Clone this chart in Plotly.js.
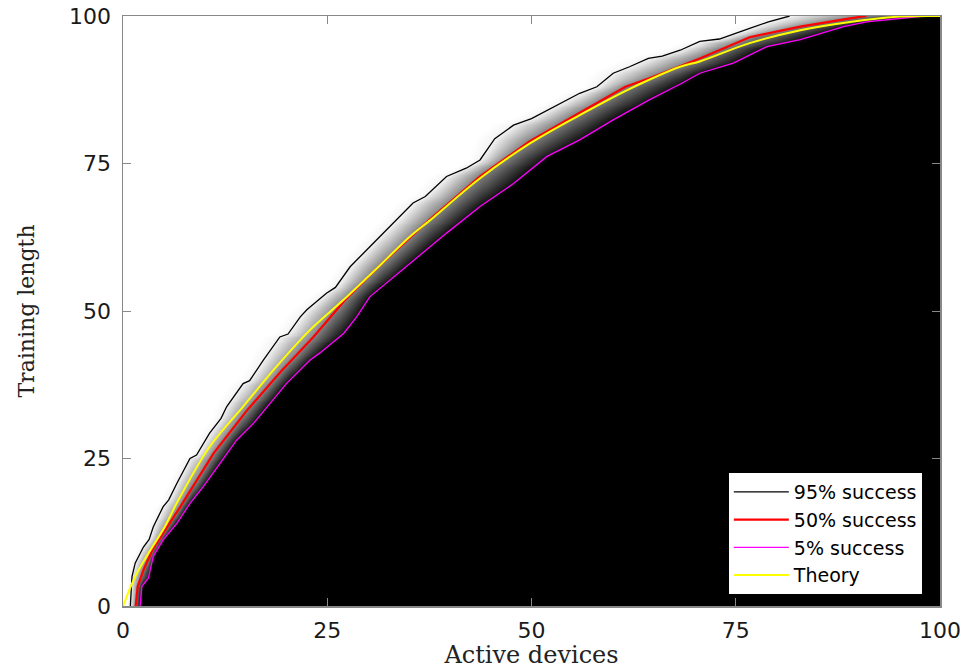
<!DOCTYPE html>
<html>
<head>
<meta charset="utf-8">
<script src="https://cdn.plot.ly/plotly-3.0.1.min.js"></script>
<style>html,body{margin:0;padding:0;background:#fff;}#chart{width:969px;height:669px;}</style>
</head>
<body>
<div id="chart"></div>
<script>
// 95% success contour
const x95 = [0.9,1.0,1.1,1.5,2.5,3.2,3.7,4.9,5.6,6.6,8.2,9.0,10.6,12.0,12.7,14.7,15.5,17.2,19.2,20.2,21.7,22.5,24.9,26.0,27.8,31.0,33.9,35.5,37.0,39.6,42.0,43.7,45.5,47.8,50.0,51.9,55.9,58.0,60.0,62.0,64.3,66.0,68.2,70.6,73.0,76.7,79.0,81.6];
const y95 = [0,3.3,5,7.3,10,11.3,13.4,16.8,18.0,20.8,25,25.6,29.3,31.8,33.8,37.7,38.2,41.7,45.6,46.1,49,50.2,53,54.0,57.5,62,66,68.3,69.4,72.8,74.2,75.6,79.2,81.5,82.6,84,86.9,88.0,90.3,91.4,92.8,93.2,94.2,95.7,96.1,97.9,99.0,100];
// 50% success contour
const x50 = [1.55,1.8,2.5,3.6,7.0,11.1,15.2,19.3,23.3,27.2,31.5,37.6,43.7,49.8,55.9,61.5,64.5,70.6,76.7,82.9,89.0,91.0];
const y50 = [0,3.3,6.1,9.5,16.8,25.9,33.2,39.7,45.6,51.9,57.8,65.6,72.8,78.8,83.6,88,89.5,92.8,96.4,98.2,99.6,100];
// 5% success contour
const x5 = [2.1,2.3,3.1,3.7,4.9,6.6,8.2,9.8,11.9,13.9,16.0,18.0,20.0,22.9,24.1,27.0,28.6,30.2,35.1,39.6,43.7,47.8,51.9,55.9,60.0,64.3,68.4,70.6,74.7,78.8,82.9,88.2,91.0,95.1,98.0];
const y5 = [0,3.3,4.7,8.4,11.2,14,17.4,20.2,24.2,28.1,31,34.4,37.7,41.7,42.9,46.2,49.0,52.4,58.1,63.2,67.7,71.6,76.2,79,82.4,85.7,88.6,90.3,92,94.8,96,98.2,99,99.6,100];
// Theory curve
const xt = [0,1.5,3.1,5.1,6.6,10.6,14.7,18.8,22.9,27.0,31.5,35.1,37.6,43.7,49.8,55.9,62.1,68.2,70.6,76.7,82.9,89.0,95.1,100];
const yt = [0,5,8.9,13.4,17.5,27,33.8,40.6,46.8,51.9,57.8,62.6,65.4,72.5,78.4,83.2,87.7,91.4,92.3,95.4,97.6,99,99.9,100];

// Build success-probability table from the contour readings
function xAt(xs, ys, y) {
  if (y <= ys[0]) return xs[0];
  for (let i = 0; i < ys.length - 1; i++) {
    if (y >= ys[i] && y <= ys[i+1]) {
      const t = ys[i+1] === ys[i] ? 0 : (y - ys[i]) / (ys[i+1] - ys[i]);
      return xs[i] + t * (xs[i+1] - xs[i]);
    }
  }
  return xs[xs.length - 1];
}
const gx = [], gy = [];
for (let i = 0; i <= 200; i++) { gx.push(i * 0.5); gy.push(i * 0.5); }
const z = gy.map(y => {
  const xa = xAt(x95, y95, y), xb = Math.max(xAt(x50, y50, y), xa + 0.05), xc = Math.max(xAt(x5, y5, y), xb + 0.05);
  const kx = [xa - (xb - xa) * 0.5, xa, xb, xc, xc + (xc - xb) * 0.15];
  const kz = [1, 0.95, 0.5, 0.05, 0];
  return gx.map(x => {
    if (x <= kx[0]) return 1;
    if (x >= kx[4]) return 0;
    for (let k = 0; k < 4; k++) {
      if (x >= kx[k] && x <= kx[k+1]) {
        const t = (x - kx[k]) / (kx[k+1] - kx[k] || 1);
        return kz[k] + t * (kz[k+1] - kz[k]);
      }
    }
    return 0;
  });
});

const data = [
  {type: 'heatmap', x: gx, y: gy, z: z, zmin: 0, zmax: 1, zsmooth: 'best',
   colorscale: [[0, '#000000'], [1, '#ffffff']], showscale: false, showlegend: false, hoverinfo: 'skip'},
  {type: 'scatter', mode: 'lines', x: x95, y: y95, name: '95% success', line: {color: '#000000', width: 1.3}},
  {type: 'scatter', mode: 'lines', x: x50, y: y50, name: '50% success', line: {color: '#ff0000', width: 2.2}},
  {type: 'scatter', mode: 'lines', x: x5, y: y5, name: '5% success', line: {color: '#ff00ff', width: 1.3}},
  {type: 'scatter', mode: 'lines', x: xt, y: yt, name: 'Theory', line: {color: '#ffff00', width: 2, shape: 'spline'}}
];

const axisCommon = {
  range: [0, 100], tickvals: [0, 25, 50, 75, 100], ticktext: ['0', '25', '50', '75', '100'],
  ticks: 'inside', ticklen: 8, tickwidth: 1, tickcolor: '#888',
  showline: true, linecolor: '#888', linewidth: 1.5, mirror: 'ticks',
  showgrid: false, zeroline: false, ticklabelstandoff: 4,
  tickfont: {family: 'DejaVu Sans', size: 22, color: '#1a1a1a'}
};

const layout = {
  width: 969, height: 669,
  margin: {l: 123, r: 29, t: 16, b: 63},
  paper_bgcolor: '#ffffff', plot_bgcolor: '#ffffff',
  xaxis: Object.assign({}, axisCommon, {
    title: {text: 'Active devices', font: {family: 'DejaVu Serif', size: 24, color: '#222'}, standoff: 6}
  }),
  yaxis: Object.assign({}, axisCommon, {
    ticklabelstandoff: 6,
    title: {text: 'Training length', font: {family: 'DejaVu Serif', size: 22, color: '#222'}, standoff: 28}
  }),
  legend: {
    x: 0.979, y: 0.0186, xanchor: 'right', yanchor: 'bottom',
    bgcolor: '#ffffff', bordercolor: '#000000', borderwidth: 1, itemwidth: 55,
    font: {family: 'DejaVu Sans', size: 19, color: '#000'}, tracegroupgap: 0
  },
  showlegend: true
};

Plotly.newPlot('chart', data, layout, {displayModeBar: false, staticPlot: true});
</script>
</body>
</html>
